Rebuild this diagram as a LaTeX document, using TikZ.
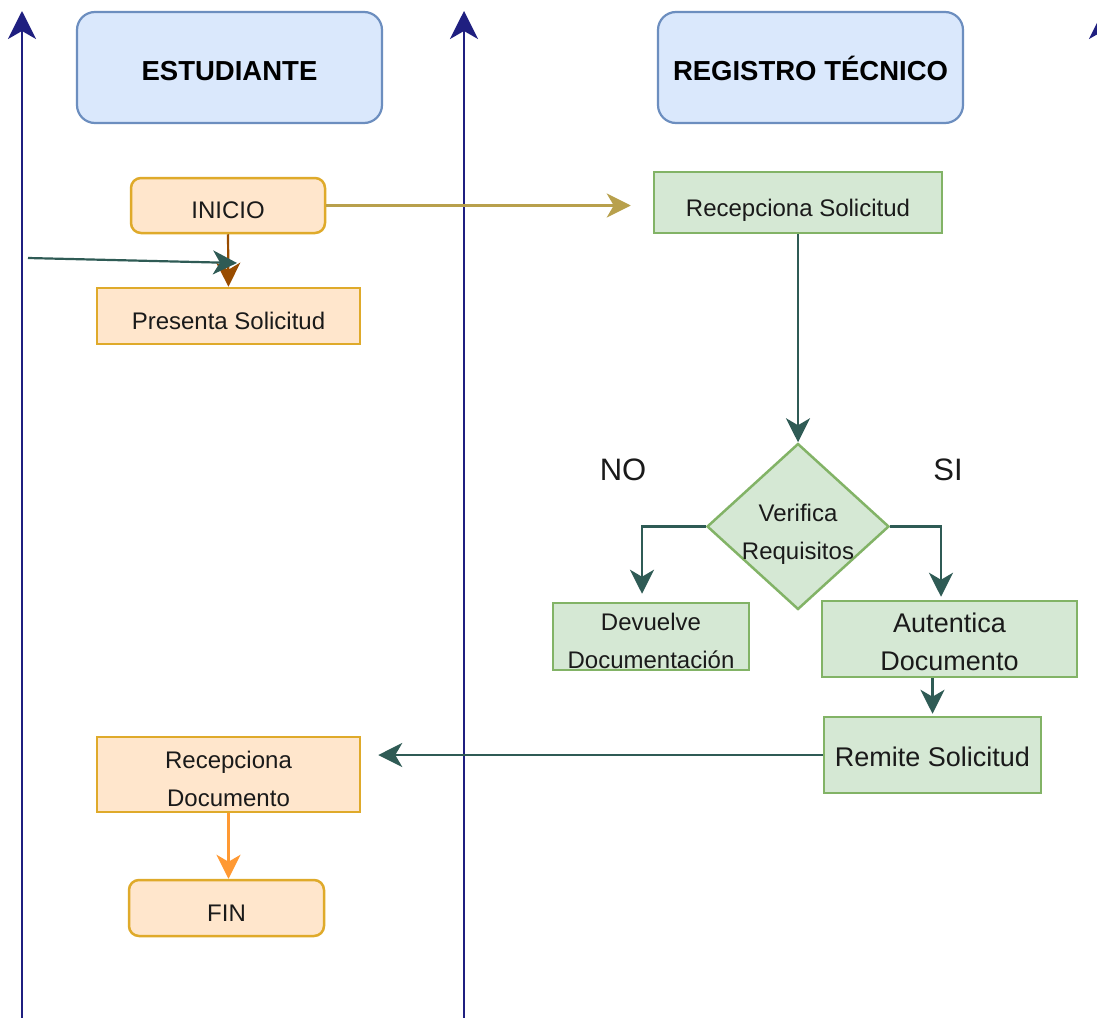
\documentclass[tikz,border=0pt]{standalone}
\usepackage{fontspec}
\setmainfont{Liberation Sans}
\usetikzlibrary{arrows.meta,shapes.geometric}
\definecolor{bluefill}{HTML}{DAE8FC}
\definecolor{bluestroke}{HTML}{6C8EBF}
\definecolor{orfill}{HTML}{FFE6CC}
\definecolor{orstroke}{HTML}{DFAA2A}
\definecolor{grfill}{HTML}{D5E8D4}
\definecolor{grstroke}{HTML}{82B366}
\definecolor{teal2}{HTML}{2F5B55}
\definecolor{tan2}{HTML}{B8A04C}
\definecolor{brown2}{HTML}{994C00}
\definecolor{orarrow}{HTML}{FF9933}
\definecolor{navy2}{HTML}{1F1F80}
\definecolor{txt}{HTML}{1A1A1A}
% push text down by #1/2 inside a node of fixed size
\newcommand\txtdown[2]{\raisebox{0pt}[\dimexpr\height+#1\relax][\depth]{#2}}
% two centred lines, pushed down by #1/2, reported smaller so the box keeps its size
\newcommand\twolines[3]{\raisebox{0pt}[\dimexpr\height+#1-25pt\relax][\dimexpr\depth-25pt\relax]{\begin{tabular}{@{}c@{}}#2\\#3\end{tabular}}}
\tikzset{
  header/.style={draw=bluestroke, fill=bluefill, line width=2.2pt, rounded corners=18pt,
    minimum width=305pt, minimum height=111pt, inner sep=0pt,
    font=\fontsize{27.5}{33}\selectfont\bfseries, text=black},
  terminal/.style={draw=orstroke, fill=orfill, line width=2.5pt, rounded corners=10pt,
    inner sep=0pt, font=\fontsize{24}{38}\selectfont, text=txt},
  orbox/.style={draw=orstroke, fill=orfill, line width=2.5pt,
    inner sep=0pt, font=\fontsize{24}{38}\selectfont, text=txt},
  grbox/.style={draw=grstroke, fill=grfill, line width=2.5pt,
    inner sep=0pt, font=\fontsize{24}{38}\selectfont, text=txt},
  bigtxt/.style={font=\fontsize{27}{38}\selectfont},
  conn/.style={line width=2.2pt, -{Stealth[length=24pt,width=24pt,inset=7pt]}},
  lane/.style={draw=navy2, line width=2pt, -{Stealth[length=28pt,width=28pt,inset=8pt]}},
  lbl/.style={font=\fontsize{31}{36}\selectfont, text=txt}
}
\begin{document}
\begin{tikzpicture}[x=1pt,y=-1pt]
\useasboundingbox (0,0) rectangle (1097,1017);
\clip (0,0) rectangle (1097,1017);
\fill[white] (0,0) rectangle (1097,1017);

% lane arrows
\coordinate (l1b) at (22,1025); \coordinate (l1t) at (22,11);
\coordinate (l2b) at (464,1025); \coordinate (l2t) at (464,11);
\coordinate (l3b) at (1103,1025); \coordinate (l3t) at (1103,11);
\draw[lane] (l1b) -- (l1t);
\draw[lane] (l2b) -- (l2t);
\draw[lane] (l3b) -- (l3t);

% headers
\node[header] (est) at (229.5,67.5) {\txtdown{8pt}{ESTUDIANTE}};
\node[header] (reg) at (810.5,67.5) {\txtdown{2pt}{REGISTRO TÉCNICO}};

% student lane
\node[terminal, minimum width=194pt, minimum height=55pt] (inicio) at (228,205.5) {\txtdown{10pt}{INICIO}};
\node[orbox, minimum width=263pt, minimum height=56pt] (pres) at (228.5,316) {\txtdown{10pt}{Presenta Solicitud}};
\node[orbox, minimum width=263pt, minimum height=75pt] (rd) at (228.5,774.5) {\twolines{10pt}{Recepciona}{Documento}};
\node[terminal, minimum width=195pt, minimum height=56pt] (fin) at (226.5,908) {\txtdown{10pt}{FIN}};

% registro lane
\node[grbox, minimum width=288pt, minimum height=61pt] (rs) at (798,202.5) {\txtdown{15pt}{Recepciona Solicitud}};
\node[grbox, diamond, minimum width=182pt, minimum height=166pt] (ver) at (798,526.5) {\twolines{12pt}{Verifica}{Requisitos}};
\node[grbox, minimum width=196pt, minimum height=67pt] (dev) at (651,636.5) {\twolines{10pt}{Devuelve}{Documentación}};
\node[grbox, bigtxt, minimum width=255pt, minimum height=76pt] (aut) at (949.5,639) {\twolines{10pt}{Autentica}{Documento}};
\node[grbox, bigtxt, minimum width=217pt, minimum height=76pt] (rem) at (932.5,755) {\txtdown{4pt}{Remite Solicitud}};

\node[lbl] (no) at (623,470) {NO};
\node[lbl] (si) at (948,470) {SI};

% connectors
\coordinate (ext) at (28,258);
\coordinate (extend) at (237,263);
\draw[conn, draw=brown2] (inicio.south) -- (pres.north);
\draw[conn, draw=teal2] (ext) -- (extend);
\draw[conn, draw=tan2, shorten >=22pt] (inicio.east) -- (inicio.east -| rs.west);
\draw[conn, draw=teal2] (rs.south) -- (ver.north);
\draw[conn, draw=teal2, shorten >=8pt] (ver.west) -| ([xshift=-9pt]dev.north);
\draw[conn, draw=teal2, shorten >=3pt] (ver.east) -| ([xshift=-8.5pt]aut.north);
\draw[conn, draw=teal2, shorten >=2pt] (rem.north |- aut.south) -- (rem.north);
\draw[conn, draw=teal2, shorten >=17pt] (rem.west) -- (rem.west -| rd.east);
\draw[conn, draw=orarrow] (rd.south) -- (rd.south |- fin.north);
\end{tikzpicture}
\end{document}
